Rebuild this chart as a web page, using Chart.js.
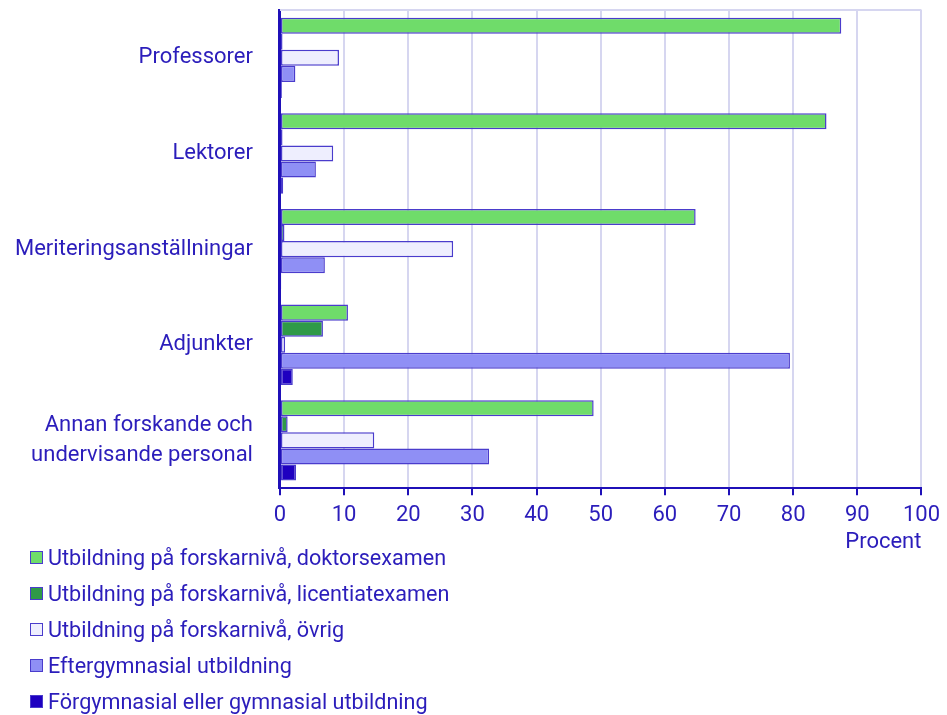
<!DOCTYPE html>
<html>
<head>
<meta charset="utf-8">
<script src="https://cdn.jsdelivr.net/npm/chart.js@4.4.1/dist/chart.umd.min.js"></script>
<style>
  html, body { margin: 0; padding: 0; background: #fff; }
  #wrap { position: relative; width: 947px; height: 715px; }
  #legend { position: absolute; left: 30px; top: 539px; font-family: Roboto, sans-serif; font-size: 21.6px; color: #2b1dbb; }
  #legend div { height: 36px; display: flex; align-items: center; }
  #legend span.box { display: inline-block; width: 11px; height: 11px; border: 1.5px solid #4a3ccc; margin-right: 5px; }
</style>
</head>
<body>
<div id="wrap">
  <canvas id="myChart" width="947" height="715"></canvas>
  <div id="legend"></div>
</div>
<script>
// -------------  DATA  -------------
const categories = [
    'Professorer',
    'Lektorer',
    'Meriteringsanställningar',
    'Adjunkter',
    ['Annan forskande och', 'undervisande personal']
];
const seriesNames = [
    'Utbildning på forskarnivå, doktorsexamen',
    'Utbildning på forskarnivå, licentiatexamen',
    'Utbildning på forskarnivå, övrig',
    'Eftergymnasial utbildning',
    'Förgymnasial eller gymnasial utbildning'
];
const doktor     = [87.5, 85.2, 64.8, 10.6, 48.9];
const licentiat  = [0.4, 0.4, 0.7, 6.7, 1.2];
const ovrig      = [9.2, 8.3, 27.0, 0.8, 14.7];
const efterg     = [2.4, 5.6, 7.0, 79.5, 32.6];
const forgymn    = [0.3, 0.5, 0.2, 2.0, 2.5];
const xTicks     = [0, 10, 20, 30, 40, 50, 60, 70, 80, 90, 100];

const fillColors = ['#6fdc6a', '#2f9a48', '#eeeefe', '#8f8ff5', '#1e00c0'];
const TEXT  = '#2b1dbb';
const AXIS  = '#1f10b8';
const EDGE  = '#4a3ccc';
const GRID  = '#d6d6f0';
//==================================

const seriesValues = [doktor, licentiat, ovrig, efterg, forgymn];

const datasets = seriesNames.map((name, i) => ({
    label: name,
    data: seriesValues[i],
    backgroundColor: fillColors[i],
    borderColor: EDGE,
    borderWidth: 1.5,
    borderSkipped: false,
    categoryPercentage: 0.84,
    barPercentage: 1.0
}));

// light line along the top of the plot
const topBorder = {
    id: 'topBorder',
    beforeDatasetsDraw(chart) {
        const { ctx, chartArea } = chart;
        ctx.save();
        ctx.strokeStyle = GRID;
        ctx.lineWidth = 2;
        ctx.beginPath();
        ctx.moveTo(chartArea.left, chartArea.top);
        ctx.lineTo(chartArea.right, chartArea.top);
        ctx.stroke();
        ctx.restore();
    }
};

const ctx = document.getElementById('myChart').getContext('2d');
const chart = new Chart(ctx, {
    type: 'bar',
    data: { labels: categories, datasets: datasets },
    plugins: [topBorder],
    options: {
        indexAxis: 'y',
        responsive: false,
        animation: false,
        devicePixelRatio: 1,
        layout: { padding: { left: -12, right: 16, top: 10, bottom: 159 } },
        scales: {
            x: {
                min: 0, max: 100,
                afterBuildTicks: axis => { axis.ticks = xTicks.map(v => ({ value: v })); },
                ticks: {
                    font: { size: 22, family: 'Roboto' },
                    color: TEXT,
                    padding: 7
                },
                grid: {
                    color: GRID,
                    lineWidth: 2,
                    tickColor: AXIS,
                    tickLength: 7,
                    tickWidth: 2
                },
                border: { color: AXIS, width: 2 },
                title: {
                    display: true,
                    text: 'Procent',
                    align: 'end',
                    color: TEXT,
                    font: { size: 22, family: 'Roboto' },
                    padding: { top: -6, bottom: 0 }
                }
            },
            y: {
                ticks: {
                    font: { size: 22, family: 'Roboto', lineHeight: 1.35 },
                    color: TEXT,
                    padding: 27
                },
                grid: { display: false, drawTicks: false },
                border: { color: AXIS, width: 3 },
                // the two-line label otherwise pushes the plot down
                afterFit: s => { s.paddingTop = 0; s.paddingBottom = 0; }
            }
        },
        plugins: {
            legend: { display: false },
            tooltip: { enabled: false }
        }
    }
});

// legend as html list, one row per dataset
const legendEl = document.getElementById('legend');
chart.data.datasets.forEach(ds => {
    const row = document.createElement('div');
    const box = document.createElement('span');
    box.className = 'box';
    box.style.background = ds.backgroundColor;
    row.appendChild(box);
    row.appendChild(document.createTextNode(ds.label));
    legendEl.appendChild(row);
});
</script>
</body>
</html>
